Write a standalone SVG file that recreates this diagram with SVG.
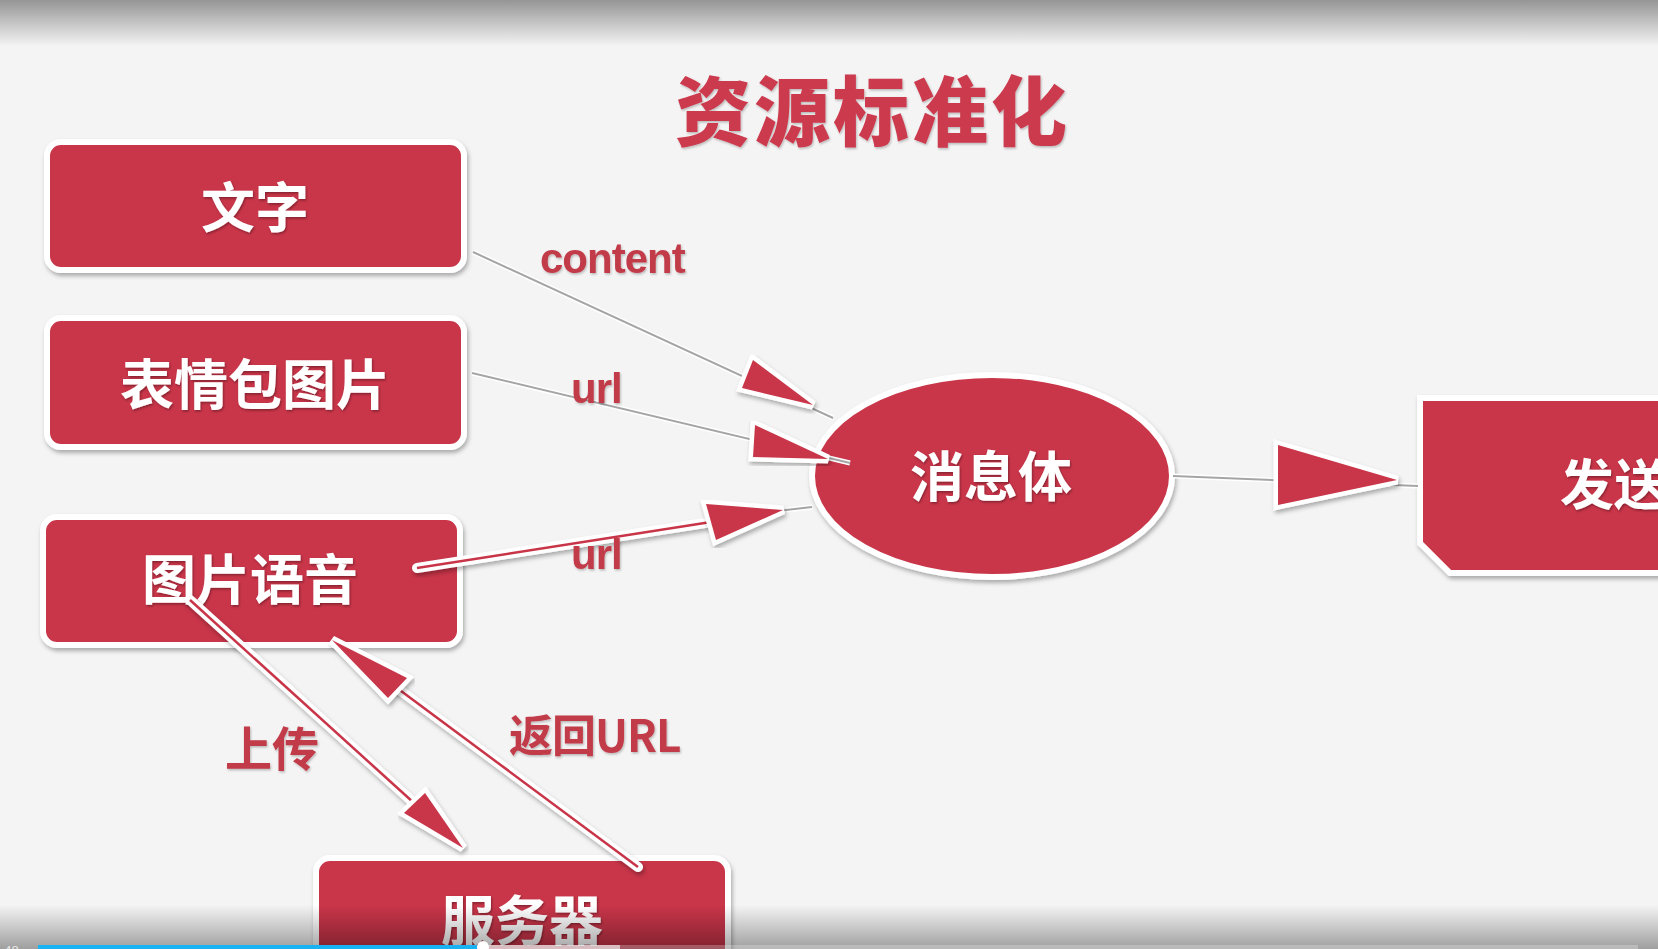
<svg xmlns="http://www.w3.org/2000/svg" width="1658" height="949" viewBox="0 0 1658 949">
  <defs>
    <linearGradient id="topShade" x1="0" y1="0" x2="0" y2="1">
      <stop offset="0" stop-color="#959595"/>
      <stop offset="1" stop-color="#f4f4f4"/>
    </linearGradient>
    <linearGradient id="bottomShade" x1="0" y1="0" x2="0" y2="1">
      <stop offset="0" stop-color="#000" stop-opacity="0"/>
      <stop offset="1" stop-color="#000" stop-opacity="0.35"/>
    </linearGradient>
    <filter id="shadow" x="-10%" y="-10%" width="120%" height="130%">
      <feDropShadow dx="1.5" dy="3" stdDeviation="2" flood-color="#000" flood-opacity="0.3"/>
    </filter>
    <filter id="tshadow" x="-10%" y="-10%" width="120%" height="130%">
      <feDropShadow dx="1" dy="1.5" stdDeviation="1" flood-color="#000" flood-opacity="0.35"/>
    </filter>
    <filter id="lshadow" x="-10%" y="-10%" width="120%" height="130%">
      <feDropShadow dx="1" dy="1.5" stdDeviation="1" flood-color="#000" flood-opacity="0.25"/>
    </filter>
  </defs>
  <style>
    .node { fill: #c93548; stroke: #ffffff; stroke-width: 6; filter: url(#shadow); }
    .ntext { font-family: "Noto Sans CJK SC", "Noto Sans", sans-serif; font-weight: 700; font-size: 54px; fill: #ffffff; filter: url(#tshadow); }
    .title { font-family: "Noto Sans CJK SC", sans-serif; font-weight: 900; font-size: 76px; fill: #cc3a4e; letter-spacing: 3px; filter: url(#lshadow); }
    .lbl { font-family: "Liberation Sans", "Noto Sans CJK SC", sans-serif; font-weight: 700; font-size: 42px; fill: #c23b4a; letter-spacing: -1px; filter: url(#lshadow); }
    .lblc { font-family: "Noto Sans CJK SC", "Liberation Sans", sans-serif; font-weight: 700; fill: #c23b4a; filter: url(#lshadow); }
    .gray { stroke: #a5a5a5; stroke-width: 2; fill: none; }
    .halo { stroke: #ffffff; stroke-width: 5; fill: none; }
    .rw-out { stroke: #ffffff; stroke-width: 10; stroke-linecap: round; fill: none; filter: url(#shadow); }
    .rw-in { stroke: #c93548; stroke-width: 2.5; fill: none; }
    .head { fill: #c93548; stroke: #ffffff; stroke-width: 9; stroke-linejoin: miter; paint-order: stroke; filter: url(#shadow); }
  </style>

  <rect x="0" y="0" width="1658" height="949" fill="#f4f4f4"/>
  <rect x="0" y="0" width="1658" height="46" fill="url(#topShade)"/>

  <g id="title">
    <text class="title" x="675" y="140">资源标准化</text>
  </g>

  <g id="node-wenzi">
    <rect class="node" x="47" y="142" width="417" height="128" rx="14"/>
    <text class="ntext" x="255" y="228" text-anchor="middle">文字</text>
  </g>
  <g id="node-biaoqing">
    <rect class="node" x="47" y="318" width="417" height="129" rx="14"/>
    <text class="ntext" x="255" y="405" text-anchor="middle">表情包图片</text>
  </g>
  <g id="node-tupian">
    <rect class="node" x="43" y="517" width="417" height="128" rx="14"/>
    <text class="ntext" x="250" y="600" text-anchor="middle">图片语音</text>
  </g>
  <g id="node-xiaoxi">
    <ellipse class="node" cx="992" cy="476" rx="180" ry="101"/>
    <text class="ntext" x="991" y="497" text-anchor="middle">消息体</text>
  </g>
  <g id="node-fasong">
    <path class="node" d="M1420,398 H1680 V573 H1450 L1420,543 Z"/>
    <text class="ntext" x="1560" y="505">发送</text>
  </g>
  <g id="node-server">
    <rect class="node" x="316" y="858" width="412" height="130" rx="14"/>
    <text class="ntext" x="522" y="941" text-anchor="middle">服务器</text>
  </g>

  <g id="connectors">
    <!-- 文字 -> 消息体 -->
    <line class="halo" x1="473" y1="252" x2="833" y2="418"/>
    <line class="gray" x1="473" y1="252" x2="833" y2="418"/>
    <polygon class="head" points="753,360 742,388 813,405"/>
    <!-- 表情包图片 -> 消息体 -->
    <line class="halo" x1="472" y1="373" x2="850" y2="463"/>
    <line class="gray" x1="472" y1="373" x2="850" y2="463"/>
    <polygon class="head" points="755,425 753,457 828,459"/>
    <!-- 图片语音 -> 消息体 -->
    <line class="halo" x1="760" y1="513" x2="812" y2="507"/>
    <line class="gray" x1="760" y1="513" x2="812" y2="507"/>
    <line class="rw-out" x1="417" y1="568" x2="711" y2="522"/>
    <line class="rw-in" x1="417" y1="568" x2="711" y2="522"/>
    <polygon class="head" points="706,504 716,540 783,510"/>
    <!-- 消息体 -> 发送 -->
    <line class="halo" x1="1173" y1="476" x2="1418" y2="486"/>
    <line class="gray" x1="1173" y1="476" x2="1418" y2="486"/>
    <polygon class="head" points="1278,445 1278,505 1397,480"/>
    <!-- 图片语音 -> 服务器 (上传) -->
    <line class="rw-out" x1="190" y1="600" x2="414" y2="803"/>
    <line class="rw-in" x1="190" y1="600" x2="414" y2="803"/>
    <polygon class="head" points="404,813 425,793 463,848"/>
    <!-- 服务器 -> 图片语音 (返回URL) -->
    <line class="rw-out" x1="638" y1="867" x2="397" y2="688"/>
    <line class="rw-in" x1="638" y1="867" x2="397" y2="688"/>
    <polygon class="head" points="407,678 388,698 332,640"/>
  </g>

  <g id="labels">
    <text class="lbl" x="540" y="273">content</text>
    <text class="lbl" x="571" y="403">url</text>
    <text class="lbl" x="571" y="569">url</text>
    <text class="lblc" x="225" y="766" font-size="47">上传</text>
    <text class="lblc" x="509" y="752" font-size="44" letter-spacing="-1">返回URL</text>
  </g>

  <g id="player-bar">
    <rect x="0" y="905" width="1658" height="44" fill="url(#bottomShade)"/>
    <rect x="38" y="945" width="1600" height="4" fill="#ffffff" fill-opacity="0.25"/>
    <rect x="483" y="945" width="137" height="4" fill="#ffffff" fill-opacity="0.6"/>
    <rect x="38" y="945" width="445" height="4" fill="#19b2f2"/>
    <circle cx="483" cy="947" r="6" fill="#ffffff"/>
    <text x="0" y="955" font-family="Liberation Sans, sans-serif" font-size="13" fill="#e8e8e8">-48</text>
  </g>
</svg>
